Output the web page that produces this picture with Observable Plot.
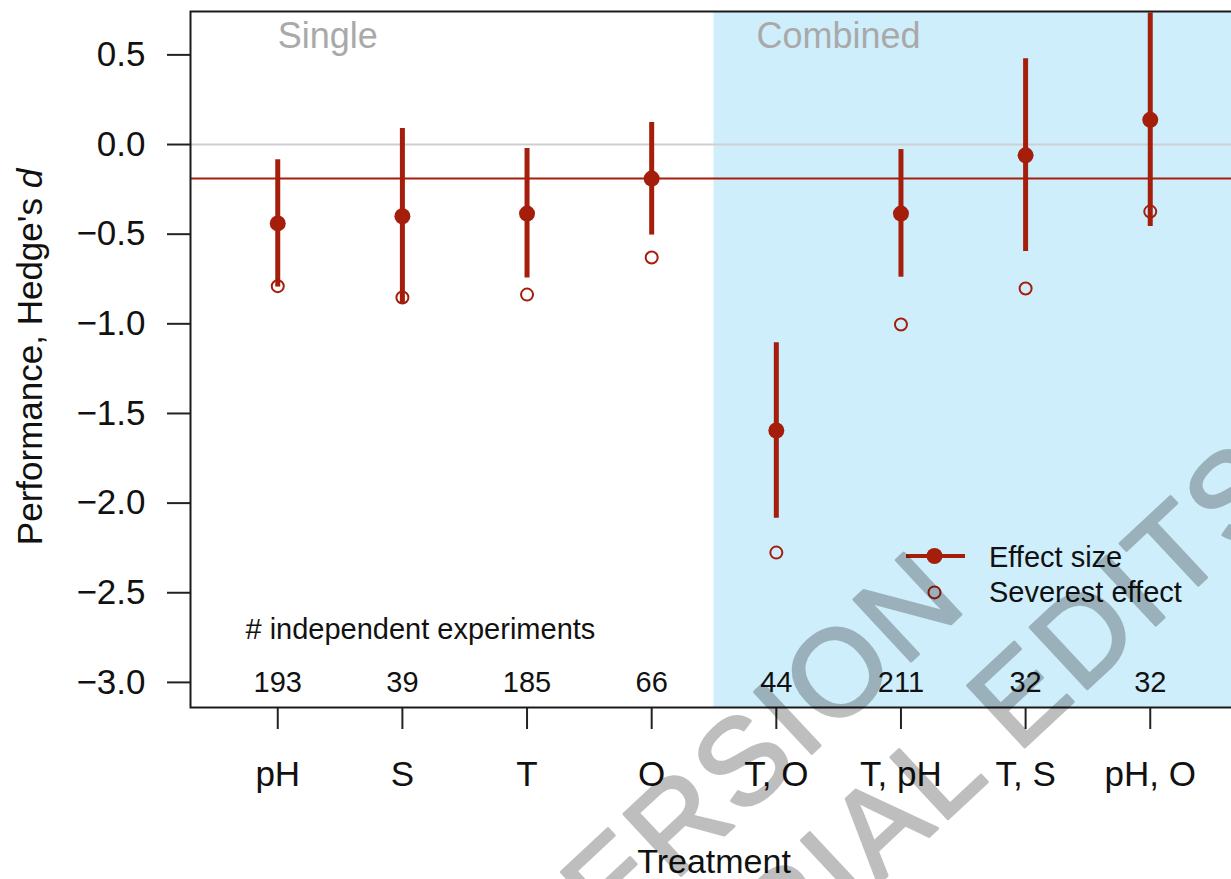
<!DOCTYPE html>
<html>
<head>
<meta charset="utf-8">
<script src="https://cdn.jsdelivr.net/npm/d3@7"></script>
<script src="https://cdn.jsdelivr.net/npm/@observablehq/plot@0.6"></script>
<style>
  html, body { margin: 0; padding: 0; background: #fff; overflow: hidden; width: 1231px; height: 879px; }
  #wrap { position: relative; width: 1231px; height: 879px; overflow: hidden; }
  #wrap svg { display: block; max-width: none !important; }
  #wm { position: absolute; left: 0; top: 0; pointer-events: none; }
</style>
</head>
<body>
<div id="wrap"></div>
<script>
// ---- data ----
const categories   = ["pH", "S", "T", "O", "T, O", "T, pH", "T, S", "pH, O"];
const effectSize   = [-0.44, -0.40, -0.385, -0.19, -1.595, -0.385, -0.06, 0.138];
const ciLow        = [-0.795, -0.89, -0.745, -0.505, -2.085, -0.74, -0.597, -0.457];
const ciHigh       = [-0.085, 0.09, -0.022, 0.123, -1.105, -0.028, 0.478, 0.733];
const severest     = [-0.79, -0.853, -0.837, -0.63, -2.276, -1.004, -0.803, -0.374];
const nExperiments = [193, 39, 185, 66, 44, 211, 32, 32];
const overallEffect = -0.19;
const yTicks = [-3.0, -2.5, -2.0, -1.5, -1.0, -0.5, 0.0, 0.5];
const groupLabels = ["Single", "Combined"];
const legendLabels = ["Effect size", "Severest effect"];

const rows = categories.map((c, k) => ({
  i: k + 1, cat: c, effect: effectSize[k], lo: ciLow[k], hi: ciHigh[k],
  sev: severest[k], n: nExperiments[k]
}));

const red = "#a51e0c";
const font = "'Liberation Sans', Arial, Helvetica, sans-serif";
const xDom = [0.3, 8.7];
const yDom = [-3.14, 0.742];

const chart = Plot.plot({
  width: 1250,
  height: 879,
  marginLeft: 190,
  marginRight: 13,
  marginTop: 11,
  marginBottom: 172,
  x: {type: "linear", domain: xDom},
  y: {type: "linear", domain: yDom},
  style: {fontFamily: font, fontSize: "35px", color: "#111", background: "white", overflow: "visible", maxWidth: "none"},
  marks: [
    Plot.rect([0], {x1: 4.5, x2: xDom[1], y1: yDom[0], y2: yDom[1], fill: "#cfeefb"}),
    Plot.ruleY([0], {stroke: "#cfcfcf", strokeWidth: 2}),
    Plot.ruleY([overallEffect], {stroke: red, strokeWidth: 2}),
    Plot.ruleX(rows, {x: "i", y1: "lo", y2: "hi", stroke: red, strokeWidth: 5}),
    Plot.dot(rows, {x: "i", y: "effect", r: 8, fill: red, stroke: "none"}),
    Plot.dot(rows, {x: "i", y: "sev", r: 6, fill: "none", stroke: red, strokeWidth: 2}),
    Plot.text(rows, {x: "i", y: -3.0, text: d => String(d.n), fontSize: 29, fill: "#111"}),
    Plot.text(["# independent experiments"], {x: 0.741, y: -2.705, text: d => d, textAnchor: "start", fontSize: 29, fill: "#111"}),
    Plot.text(groupLabels, {x: (d, k) => [1.0, 4.841][k], y: 0.6, text: d => d, textAnchor: "start", fontSize: 36, fill: "#a9a9a9"}),
    // legend
    Plot.ruleY([-2.295], {x1: 6.045, x2: 6.518, stroke: red, strokeWidth: 4}),
    Plot.dot([0], {x: 6.269, y: -2.295, r: 8, fill: red, stroke: "none"}),
    Plot.dot([0], {x: 6.269, y: -2.498, r: 6, fill: "none", stroke: red, strokeWidth: 2}),
    Plot.text(legendLabels, {x: 6.706, y: (d, k) => [-2.305, -2.502][k], text: d => d, textAnchor: "start", fontSize: 29, fill: "#111"}),
    // axes
    Plot.axisY({ticks: yTicks, tickSize: 23, tickPadding: 22, tickFormat: d3.format(".1f"), label: null, fontSize: 35, strokeWidth: 2, stroke: "#222", fill: "#111"}),
    Plot.axisX({ticks: rows.map(d => d.i), tickSize: 22, tickPadding: 32, tickFormat: i => categories[i - 1], label: null, fontSize: 35, strokeWidth: 2, stroke: "#222", fill: "#111"}),
    Plot.frame({stroke: "#1a1a1a", strokeWidth: 2})
  ]
});
chart.style.maxWidth = "none";
chart.setAttribute("width", 1250);

document.getElementById("wrap").appendChild(chart);

// axis titles
const svg = d3.select(chart);
svg.append("text")
  .attr("x", 714).attr("y", 873)
  .attr("text-anchor", "middle")
  .attr("font-family", font).attr("font-size", 34).attr("fill", "#111")
  .text("Treatment");
const yt = svg.append("text")
  .attr("transform", "translate(42,357) rotate(-90)")
  .attr("text-anchor", "middle")
  .attr("font-family", font).attr("font-size", 35).attr("fill", "#111");
yt.append("tspan").text("Performance, Hedge's ");
yt.append("tspan").attr("font-style", "italic").text("d");

// watermark overlay
const wm = d3.select("#wrap").append("svg")
  .attr("id", "wm").attr("width", 1231).attr("height", 879);
const wmLines = [
  {text: "AUTHOR VERSION", x: 971, y: 605},
  {text: "WITHOUT EDITORIAL EDITS", x: 1295, y: 495}
];
wm.append("g").attr("opacity", 0.25)
  .selectAll("text").data(wmLines).join("text")
  .attr("x", d => d.x).attr("y", d => d.y)
  .attr("transform", d => `rotate(-43 ${d.x} ${d.y})`)
  .attr("text-anchor", "end")
  .attr("font-family", font).attr("font-size", 122)
  .attr("letter-spacing", 4)
  .attr("fill", "#000").attr("stroke", "#000").attr("stroke-width", 3).attr("stroke-linejoin", "round")
  .text(d => d.text);
</script>
</body>
</html>
